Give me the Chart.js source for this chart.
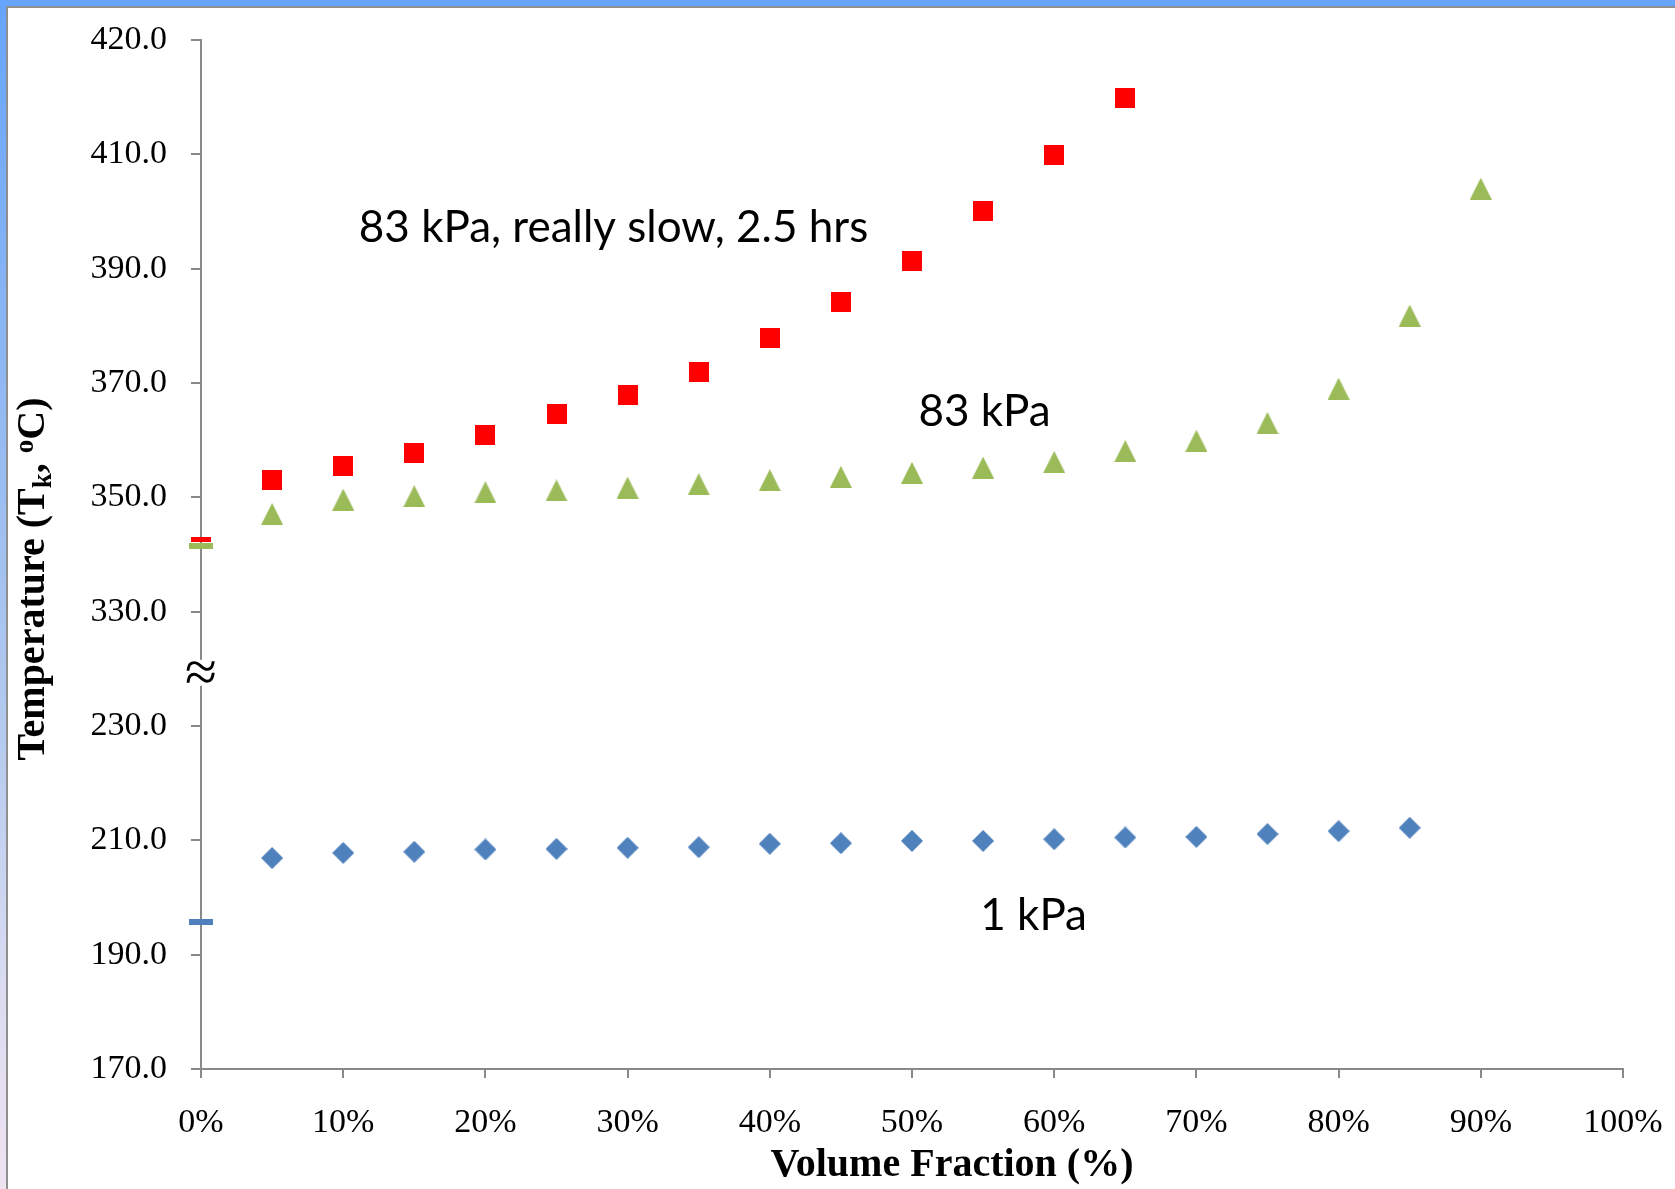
<!DOCTYPE html>
<html>
<head>
<meta charset="utf-8">
<title>Temperature vs Volume Fraction</title>
<script src="https://cdn.jsdelivr.net/npm/chart.js@4.4.1/dist/chart.umd.min.js"></script>
<style>
  html, body { margin: 0; padding: 0; background: #fff; overflow: hidden; }
  #wrap { position: relative; width: 1675px; height: 1189px; }
  #chart { position: absolute; left: 0; top: 0; }
  .band-top { position: absolute; left: 0; top: 0; width: 1675px; height: 6px; background: #66a5fe; }
  .line-top { position: absolute; left: 6px; top: 6px; width: 1669px; height: 2px; background: #8f8f8f; }
  .band-left { position: absolute; left: 0; top: 0; width: 6px; height: 1189px;
    background: linear-gradient(#66a5fe, #8db7f3 30%, #b2c9ef 60%, #d9dbf1 82%, #efe3f1); }
  .line-left { position: absolute; left: 6px; top: 6px; width: 2px; height: 1183px; background: #8f8f8f; }
</style>
</head>
<body>
<div id="wrap">
  <canvas id="chart" width="1675" height="1189"></canvas>
  <div class="band-top"></div>
  <div class="band-left"></div>
  <div class="line-top"></div>
  <div class="line-left"></div>
</div>
<script>
// Volume fraction (%) of each measurement
const volumeFraction1kPa = [0, 5, 10, 15, 20, 25, 30, 35, 40, 45, 50, 55, 60, 65, 70, 75, 80, 85];
const volumeFraction83kPa = [0, 5, 10, 15, 20, 25, 30, 35, 40, 45, 50, 55, 60, 65, 70, 75, 80, 85, 90];
const volumeFraction83kPaSlow = [0, 5, 10, 15, 20, 25, 30, 35, 40, 45, 50, 55, 60, 65];

// Temperature T_k (°C); the 0% entry is the reference value drawn as a dash on the axis
const temp1kPa = [195.8, 206.9, 207.8, 208.0, 208.4, 208.5, 208.7, 208.8, 209.4, 209.5,
                  209.9, 209.9, 210.2, 210.5, 210.6, 211.1, 211.6, 212.2];
const temp83kPa = [341.4, 347.1, 349.6, 350.2, 350.9, 351.2, 351.7, 352.3, 353.0, 353.6,
                   354.3, 355.2, 356.2, 358.1, 359.9, 363.0, 369.0, 381.8, 404.0];
const temp83kPaSlow = [342.7, 353.1, 355.5, 357.8, 360.9, 364.5, 367.9, 372.0, 377.8, 384.2,
                       391.4, 400.1, 409.9, 419.9];

// Y axis tick labels, bottom to top
const yTickLabels = ['170.0', '190.0', '210.0', '230.0', '330.0', '350.0', '370.0', '390.0', '410.0', '420.0'];

// Broken y axis: temperatures above the break are shifted down by BREAK_OFFSET
const Y_MIN = 170, Y_MAX = 350, Y_STEP = 20;
const BREAK_AXIS_VALUE = 240;
const BREAK_OFFSET = 80;
function toAxis(t) { return t >= BREAK_AXIS_VALUE + BREAK_OFFSET ? t - BREAK_OFFSET : t; }

// Series labels written on the plot: [text, volume fraction, temperature]
const noteTexts = ['83 kPa, really slow, 2.5 hrs', '83 kPa', '1 kPa'];
const noteX = [11.1, 50.45, 54.8];
const noteTemp = [394.7, 362.4, 194.4];

const COLOR_1KPA = '#4f81bd';
const COLOR_83KPA = '#9bbb59';
const COLOR_SLOW = '#ff0000';

function marker(w, h, color, path) {
  const c = document.createElement('canvas');
  c.width = w; c.height = h;
  const g = c.getContext('2d');
  g.fillStyle = color;
  g.beginPath();
  path(g, w, h);
  g.closePath();
  g.fill();
  return c;
}
const diamond = marker(22, 22, COLOR_1KPA, (g, w, h) => { g.moveTo(w / 2, 0); g.lineTo(w, h / 2); g.lineTo(w / 2, h); g.lineTo(0, h / 2); });
const triangle = marker(22, 22, COLOR_83KPA, (g, w, h) => { g.moveTo(w / 2, 0); g.lineTo(w, h); g.lineTo(0, h); });
const square = marker(20, 20, COLOR_SLOW, (g, w, h) => { g.rect(0, 0, w, h); });
const dashBlue = marker(24, 6, COLOR_1KPA, (g, w, h) => { g.rect(0, 0, w, h); });
const dashGreen = marker(24, 6, COLOR_83KPA, (g, w, h) => { g.rect(0, 0, w, h); });
const dashRed = marker(20, 5, COLOR_SLOW, (g, w, h) => { g.rect(0, 0, w, h); });

function points(xs, ys) { return xs.map((x, i) => ({ x: x, y: toAxis(ys[i]) })); }

const axisGray = '#898989';
const tickFont = { family: '"Liberation Serif", "Times New Roman", serif', size: 34 };

function noLabelPadding(s) { s.paddingLeft = 0; s.paddingRight = 0; s.paddingTop = 0; s.paddingBottom = 0; }

const overlay = {
  id: 'overlay',
  afterDatasetsDraw(chart) {
    const { ctx } = chart;
    const x = chart.scales.x, y = chart.scales.y;
    ctx.save();

    // axis break mark
    const yb = y.getPixelForValue(BREAK_AXIS_VALUE) + 4;
    ctx.fillStyle = '#fff';
    ctx.fillRect(x.left - 4, yb - 13, 8, 26);
    ctx.fillStyle = '#000';
    ctx.font = '58px "Liberation Serif"';
    ctx.textAlign = 'center';
    ctx.textBaseline = 'middle';
    ctx.fillText('\u2248', x.left, yb + 3);

    // series labels
    ctx.font = '44px Lato';
    ctx.textAlign = 'left';
    ctx.textBaseline = 'alphabetic';
    noteTexts.forEach((t, i) => {
      ctx.fillText(t, x.getPixelForValue(noteX[i]), y.getPixelForValue(toAxis(noteTemp[i])));
    });

    // x axis title
    ctx.font = 'bold 40px "Liberation Serif"';
    ctx.textAlign = 'center';
    ctx.textBaseline = 'middle';
    ctx.fillText('Volume Fraction (%)', 952, 1166);

    // y axis title with subscript k and superscript o
    const main = 'bold 40px "Liberation Serif"';
    const small = 'bold 27px "Liberation Serif"';
    const runs = [
      { text: 'Temperature (T', font: main, dy: 0 },
      { text: 'k', font: small, dy: 7 },
      { text: ', ', font: main, dy: 0 },
      { text: 'o', font: small, dy: -11 },
      { text: 'C)', font: main, dy: 0 }
    ];
    let total = 0;
    runs.forEach(r => { ctx.font = r.font; r.w = ctx.measureText(r.text).width; total += r.w; });
    ctx.translate(44, 579);
    ctx.rotate(-Math.PI / 2);
    ctx.textAlign = 'left';
    ctx.textBaseline = 'alphabetic';
    let pos = -total / 2;
    runs.forEach(r => { ctx.font = r.font; ctx.fillText(r.text, pos, r.dy); pos += r.w; });
    ctx.restore();
  }
};

function draw() {
  new Chart(document.getElementById('chart'), {
    type: 'scatter',
    data: {
      datasets: [
        {
          label: '1 kPa',
          data: points(volumeFraction1kPa, temp1kPa),
          pointStyle: c => c.dataIndex === 0 ? dashBlue : diamond,
          pointRadius: 11, pointHoverRadius: 11, clip: false,
          backgroundColor: COLOR_1KPA, borderColor: COLOR_1KPA
        },
        {
          label: '83 kPa',
          data: points(volumeFraction83kPa, temp83kPa),
          pointStyle: c => c.dataIndex === 0 ? dashGreen : triangle,
          pointRadius: 11, pointHoverRadius: 11, clip: false,
          backgroundColor: COLOR_83KPA, borderColor: COLOR_83KPA
        },
        {
          label: '83 kPa, really slow, 2.5 hrs',
          data: points(volumeFraction83kPaSlow, temp83kPaSlow),
          pointStyle: c => c.dataIndex === 0 ? dashRed : square,
          pointRadius: 10, pointHoverRadius: 10, clip: false,
          backgroundColor: COLOR_SLOW, borderColor: COLOR_SLOW
        }
      ]
    },
    options: {
      responsive: false,
      animation: false,
      devicePixelRatio: 1,
      layout: { padding: { left: 0, top: 40, right: 52, bottom: 0 } },
      plugins: { legend: { display: false }, tooltip: { enabled: false } },
      scales: {
        x: {
          type: 'linear', min: 0, max: 100,
          afterFit(s) { s.height = 120; noLabelPadding(s); },
          ticks: { stepSize: 10, autoSkip: false, maxRotation: 0, padding: 25,
                   color: '#000', font: tickFont, callback: v => v + '%' },
          grid: { drawOnChartArea: false, drawTicks: true, tickLength: 9, color: axisGray, lineWidth: 2 },
          border: { color: axisGray, width: 2 }
        },
        y: {
          type: 'linear', min: Y_MIN, max: Y_MAX,
          afterFit(s) { s.width = 201; noLabelPadding(s); },
          ticks: { stepSize: Y_STEP, autoSkip: false, padding: 24, color: '#000', font: tickFont,
                   callback: v => yTickLabels[Math.round((v - Y_MIN) / Y_STEP)] },
          grid: { drawOnChartArea: false, drawTicks: true, tickLength: 10, color: axisGray, lineWidth: 2 },
          border: { color: axisGray, width: 2 }
        }
      }
    },
    plugins: [overlay]
  });
}

const fontLoads = [
  '44px Lato', '34px "Liberation Serif"', 'bold 40px "Liberation Serif"'
].map(f => document.fonts.load(f));
Promise.all(fontLoads).then(draw, draw);
</script>
</body>
</html>
